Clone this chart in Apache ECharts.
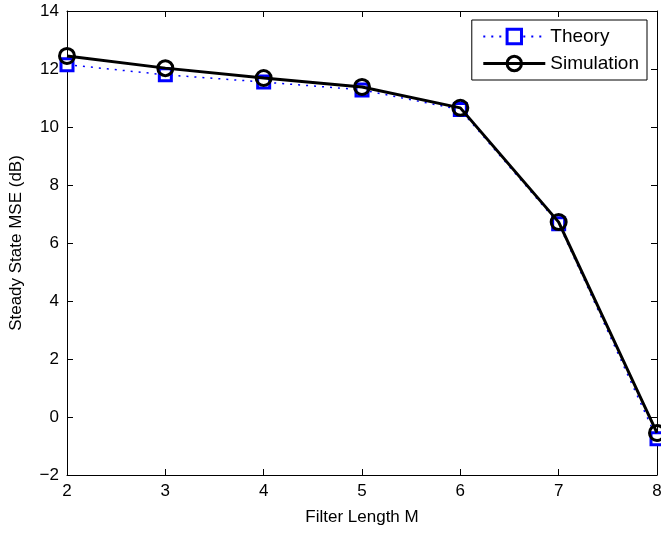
<!DOCTYPE html>
<html>
<head>
<meta charset="UTF-8">
<title>Steady State MSE vs Filter Length</title>
<style>
  html, body { margin: 0; padding: 0; background: #fff; }
  #main { width: 661px; height: 534px; }
</style>
<script src="https://cdn.jsdelivr.net/npm/echarts@6/dist/echarts.min.js"></script>
</head>
<body>
<div id="main"></div>
<script>
// data
var filterLength = [2, 3, 4, 5, 6, 7, 8];
var theory = [12.15, 11.8, 11.55, 11.28, 10.6, 6.66, -0.75];
var simulation = [12.45, 12.03, 11.69, 11.38, 10.66, 6.72, -0.55];

function pairs(xs, ys) {
    return xs.map(function (x, i) { return [x, ys[i]]; });
}

var font = 'Liberation Sans, Arial, Helvetica, sans-serif';
var minus = function (v) { return String(v).replace('-', '\u2212'); };

var chart = echarts.init(document.getElementById('main'));

var option = {
    animation: false,
    grid: { left: 67, right: 4, top: 11, bottom: 59, containLabel: false, outerBoundsMode: 'none' },
    legend: {
        right: 14,
        top: 20,
        orient: 'vertical',
        itemGap: 8,
        itemWidth: 62,
        itemHeight: 18,
        padding: [7, 8, 7, 10],
        borderColor: '#000',
        borderWidth: 1,
        backgroundColor: '#fff',
        textStyle: { fontFamily: font, fontSize: 19, color: '#000' },
        data: [
            { name: 'Theory', itemStyle: { borderWidth: 3 }, lineStyle: { width: 2 } },
            { name: 'Simulation', itemStyle: { borderWidth: 3 }, lineStyle: { width: 3 } }
        ]
    },
    xAxis: [{
        type: 'value',
        min: 2, max: 8, interval: 1,
        name: 'Filter Length M',
        nameLocation: 'middle',
        nameGap: 34,
        nameTextStyle: { fontFamily: font, fontSize: 17, color: '#000' },
        axisLine: { onZero: false, lineStyle: { color: '#000', width: 1 } },
        axisTick: { inside: true, length: 6, lineStyle: { color: '#000' } },
        axisLabel: { fontFamily: font, fontSize: 17, color: '#000', margin: 8 },
        splitLine: { show: false }
    }, {
        type: 'value',
        position: 'top',
        min: 2, max: 8, interval: 1,
        axisLine: { onZero: false, lineStyle: { color: '#000', width: 1 } },
        axisTick: { inside: true, length: 6, lineStyle: { color: '#000' } },
        axisLabel: { show: false },
        splitLine: { show: false }
    }],
    yAxis: [{
        type: 'value',
        min: -2, max: 14, interval: 2,
        name: 'Steady State MSE (dB)',
        nameLocation: 'middle',
        nameGap: 42,
        nameTextStyle: { fontFamily: font, fontSize: 17, color: '#000' },
        axisLine: { show: true, onZero: false, lineStyle: { color: '#000', width: 1 } },
        axisTick: { show: true, inside: true, length: 6, lineStyle: { color: '#000' } },
        axisLabel: { fontFamily: font, fontSize: 17, color: '#000', margin: 8, formatter: minus },
        splitLine: { show: false }
    }, {
        type: 'value',
        position: 'right',
        min: -2, max: 14, interval: 2,
        axisLine: { show: true, onZero: false, lineStyle: { color: '#000', width: 1 } },
        axisTick: { show: true, inside: true, length: 6, lineStyle: { color: '#000' } },
        axisLabel: { show: false },
        splitLine: { show: false }
    }],
    series: [{
        name: 'Theory',
        type: 'line',
        data: pairs(filterLength, theory),
        symbol: 'rect',
        symbolSize: 12,
        lineStyle: { color: '#0000ff', width: 1.5, type: [2, 6] },
        itemStyle: { color: '#fff', borderColor: '#0000ff', borderWidth: 3 },
        z: 2
    }, {
        name: 'Simulation',
        type: 'line',
        data: pairs(filterLength, simulation),
        symbol: 'circle',
        symbolSize: 15,
        lineStyle: { color: '#000', width: 3 },
        itemStyle: { color: 'rgba(0,0,0,0)', borderColor: '#000', borderWidth: 3 },
        z: 3
    }]
};

chart.setOption(option);
</script>
</body>
</html>
